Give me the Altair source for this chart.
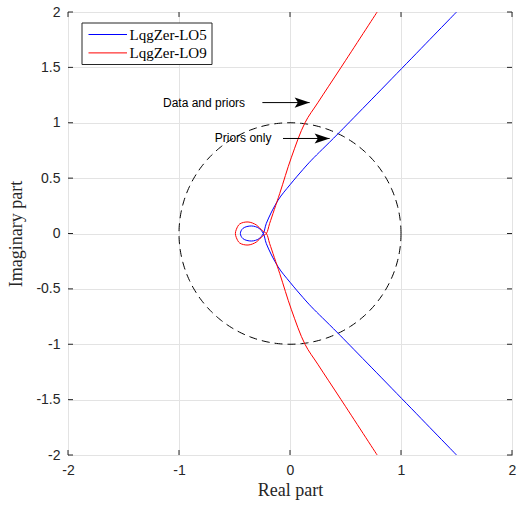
import altair as alt
import pandas as pd
import numpy as np

# ---------------- data ----------------
series_names = ["LqgZer-LO5", "LqgZer-LO9"]
series_colors = ["#0000ff", "#ff0000"]

# upper branches (from top of the plot down to the crossing on the real axis)
blue_upper_x = [1.50, 0.432, 0.193, 0.117, 0.0, -0.108, -0.213, -0.24]
blue_upper_y = [2.0, 0.9, 0.662, 0.578, 0.44, 0.30, 0.092, 0.0]
# small loop, lower half (from crossing to the leftmost point)
blue_loop_x = [-0.279, -0.348, -0.423, -0.447]
blue_loop_y = [-0.047, -0.068, -0.047, 0.0]

red_upper_x = [0.785, 0.46, 0.25, 0.135, 0.013, -0.093, -0.183, -0.213]
red_upper_y = [2.0, 1.5, 1.18, 1.0, 0.689, 0.36, 0.092, 0.0]
red_loop_x = [-0.249, -0.303, -0.378, -0.453, -0.483, -0.492]
red_loop_y = [-0.025, -0.077, -0.104, -0.086, -0.038, 0.0]

x_ticks = [-2, -1, 0, 1, 2]
y_ticks = [-2, -1.5, -1, -0.5, 0, 0.5, 1, 1.5, 2]

ann_text = ["Data and priors", "Priors only"]
ann_text_x = [-1.144, -0.678]
ann_text_y = [1.182, 0.858]
arrow_x0 = [-0.249, -0.063]
arrow_x1 = [0.177, 0.357]
arrow_y = [1.182, 0.858]

circle_radius = 1.0


def build_path(ux, uy, lx, ly):
    upper = list(zip(ux, uy))
    loop = list(zip(lx, ly))
    pts = upper + loop
    pts += [(x, -y) for x, y in list(reversed(loop))[1:]]
    pts += [(x, -y) for x, y in reversed(upper)]
    return pts


rows = []
for name, ux, uy, lx, ly in [
    (series_names[0], blue_upper_x, blue_upper_y, blue_loop_x, blue_loop_y),
    (series_names[1], red_upper_x, red_upper_y, red_loop_x, red_loop_y),
]:
    for i, (x, y) in enumerate(build_path(ux, uy, lx, ly)):
        rows.append({"series": name, "x": x, "y": y, "idx": i})
curves = pd.DataFrame(rows)

theta = np.linspace(0, 2 * np.pi, 361)
circle = pd.DataFrame({"x": circle_radius * np.cos(theta),
                       "y": circle_radius * np.sin(theta),
                       "idx": np.arange(len(theta))})

ann = pd.DataFrame({"text": ann_text, "x": ann_text_x, "y": ann_text_y})
arrows = pd.DataFrame({"x0": arrow_x0, "x1": arrow_x1, "y": arrow_y})
xt = pd.DataFrame({"v": x_ticks})
yt = pd.DataFrame({"v": y_ticks})
one = pd.DataFrame({"a": [0]})

# ---------------- layout ----------------
W, H = 444, 443
AX = "#262626"
xscale = alt.Scale(domain=[-2, 2], nice=False, zero=False)
yscale = alt.Scale(domain=[-2, 2], nice=False, zero=False)

common_axis = dict(grid=True, gridColor="#e3e3e3", gridWidth=1, ticks=False,
                   domain=False, labelFont="Liberation Sans", labelFontSize=14,
                   labelColor=AX, labelPadding=8, labelFlush=False,
                   labelExpr="'' + datum.value",
                   titleFont="Liberation Serif", titleFontSize=18,
                   titleFontWeight="normal", titleColor=AX)

x_axis = alt.Axis(values=x_ticks, title="Real part", titlePadding=4, **common_axis)
y_axis = alt.Axis(values=y_ticks, title="Imaginary part", titlePadding=10, **common_axis)


def X(f):
    return alt.X(f, type="quantitative", scale=xscale, axis=x_axis)


def Y(f):
    return alt.Y(f, type="quantitative", scale=yscale, axis=y_axis)


circle_layer = alt.Chart(circle).mark_line(
    color="black", strokeWidth=1, strokeDash=[8, 5]
).encode(x=X("x"), y=Y("y"), order="idx:Q")

curve_layer = alt.Chart(curves).mark_line(
    strokeWidth=1, clip=True, interpolate="catmull-rom"
).encode(
    x=X("x"), y=Y("y"),
    color=alt.Color("series:N", scale=alt.Scale(domain=series_names, range=series_colors), legend=None),
    order="idx:Q",
)

ann_layer = alt.Chart(ann).mark_text(
    align="left", baseline="middle", font="Liberation Sans", fontSize=12, color="black"
).encode(x=X("x"), y=Y("y"), text="text:N")

arrow_lines = alt.Chart(arrows).mark_rule(color="black", strokeWidth=1).encode(
    x=X("x0"), x2="x1:Q", y=Y("y"))

arrow_heads = alt.Chart(arrows).mark_point(
    shape="M0,0 L-1,-0.34 L-0.78,0 L-1,0.34 Z", filled=True, size=900,
    color="black", opacity=1, strokeWidth=0
).encode(x=X("x1"), y=Y("y"))

tick_len = 5
tick_b = alt.Chart(xt).mark_rule(color=AX, strokeWidth=1).encode(
    x=X("v"), y=alt.value(H), y2=alt.value(H - tick_len))
tick_t = alt.Chart(xt).mark_rule(color=AX, strokeWidth=1).encode(
    x=X("v"), y=alt.value(0), y2=alt.value(tick_len))
tick_l = alt.Chart(yt).mark_rule(color=AX, strokeWidth=1).encode(
    y=Y("v"), x=alt.value(0), x2=alt.value(tick_len))
tick_r = alt.Chart(yt).mark_rule(color=AX, strokeWidth=1).encode(
    y=Y("v"), x=alt.value(W), x2=alt.value(W - tick_len))

# legend box
leg_box = alt.Chart(one).mark_rect(fill="white", stroke=AX, strokeWidth=1).encode(
    x=alt.value(14), x2=alt.value(144), y=alt.value(11), y2=alt.value(52.5))
leg_layers = [leg_box]
for i, (name, col) in enumerate(zip(series_names, series_colors)):
    yy = 22.5 + i * 18.4
    leg_layers.append(alt.Chart(one).mark_rule(color=col, strokeWidth=1).encode(
        x=alt.value(20.5), x2=alt.value(59), y=alt.value(yy)))
    leg_layers.append(alt.Chart(one).mark_text(
        align="left", baseline="middle", font="Liberation Serif", fontSize=15, color="black"
    ).encode(x=alt.value(61.5), y=alt.value(yy + 0.5), text=alt.value(name)))

chart = alt.layer(
    circle_layer, curve_layer, arrow_lines, arrow_heads, ann_layer,
    tick_b, tick_t, tick_l, tick_r, *leg_layers
).properties(
    width=W, height=H,
    autosize=alt.AutoSizeParams(type="none"),
    padding={"left": 68, "top": 12, "right": 5, "bottom": 50},
    background="white",
).configure_view(stroke=AX, strokeWidth=1)

chart.save("out.html", embed_options={"renderer": "svg", "actions": False})
